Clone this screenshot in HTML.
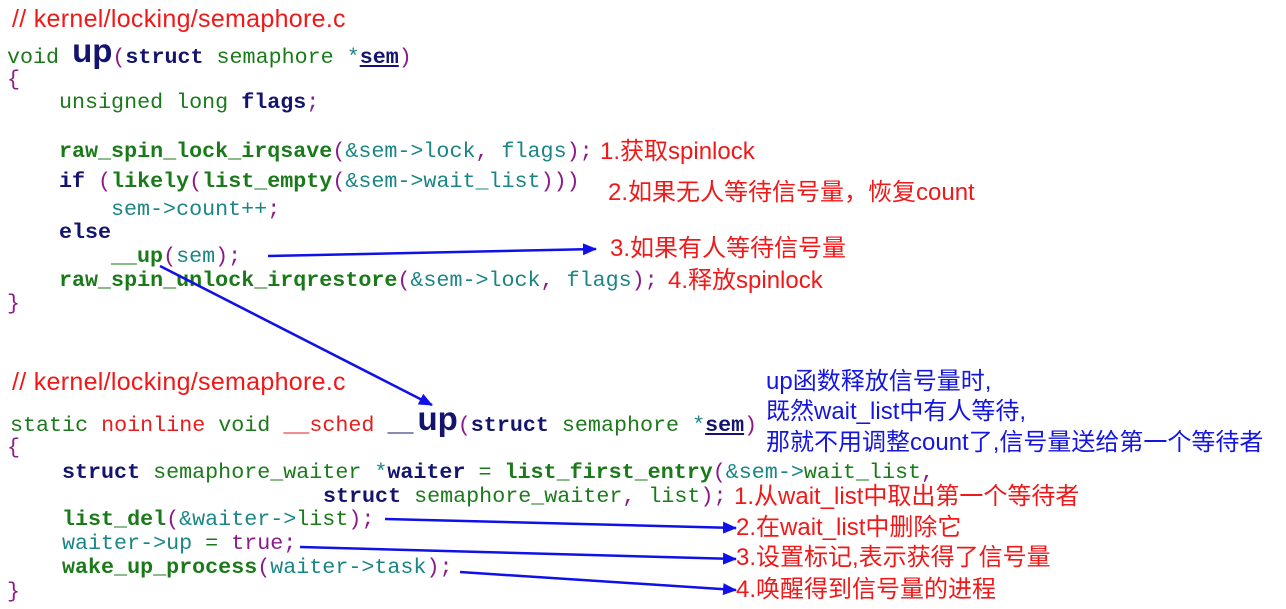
<!DOCTYPE html>
<html><head><meta charset="utf-8"><style>
body{margin:0;width:1286px;height:609px;background:#fff;position:relative;overflow:hidden}
.l{position:absolute;white-space:pre;font-family:"Liberation Mono",monospace;font-size:21.7px;line-height:26px;color:#1a7a1a}
.n{color:#14146e;font-weight:bold}.g{color:#1a7a1a}.gb{color:#1a7a1a;font-weight:bold}.t{color:#1a8585}.p{color:#8a1a8a}.r{color:#e81c1c}
.big{font-family:"Liberation Sans",sans-serif;font-weight:bold;font-size:33px;color:#14146e}
.c{position:absolute;white-space:nowrap;font-family:"Liberation Sans","Noto Sans CJK SC",sans-serif;font-size:24px;line-height:28px;color:#f01818}
.b{color:#1515e0}
.u{text-decoration:underline}
</style></head><body>
<div class="c" style="left:12px;top:5px;font-size:25px;letter-spacing:0.3px">// kernel/locking/semaphore.c</div>
<div class="l" style="left:7px;top:39px">void <span class="big" style="position:relative;top:-1px">up</span><span class="p">(</span><span class="n">struct</span> semaphore <span class="t">*</span><span class="n u">sem</span><span class="p">)</span></div>
<div class="l p" style="left:7px;top:67px">{</div>
<div class="l" style="left:59px;top:90px">unsigned long <span class="n">flags</span><span class="p">;</span></div>
<div class="l" style="left:59px;top:139px"><span class="gb">raw_spin_lock_irqsave</span><span class="p">(</span><span class="t">&amp;sem-&gt;lock</span><span class="p">,</span> <span class="t">flags</span><span class="p">);</span></div>
<div class="l" style="left:59px;top:169px"><span class="n">if</span> <span class="p">(</span><span class="gb">likely</span><span class="p">(</span><span class="gb">list_empty</span><span class="p">(</span><span class="t">&amp;sem-&gt;wait_list</span><span class="p">)))</span></div>
<div class="l" style="left:111px;top:197px"><span class="t">sem-&gt;count++</span><span class="p">;</span></div>
<div class="l" style="left:59px;top:220px"><span class="n">else</span></div>
<div class="l" style="left:111px;top:244px"><span class="gb">__up</span><span class="p">(</span><span class="t">sem</span><span class="p">);</span></div>
<div class="l" style="left:59px;top:268px"><span class="gb">raw_spin_unlock_irqrestore</span><span class="p">(</span><span class="t">&amp;sem-&gt;lock</span><span class="p">,</span> <span class="t">flags</span><span class="p">);</span></div>
<div class="l p" style="left:7px;top:291px">}</div>

<div class="c" style="left:600px;top:138px">1.获取spinlock</div>
<div class="c" style="left:608px;top:179px">2.如果无人等待信号量，恢复count</div>
<div class="c" style="left:610px;top:235px">3.如果有人等待信号量</div>
<div class="c" style="left:668px;top:267px">4.释放spinlock</div>

<div class="c" style="left:12px;top:368px;font-size:25px;letter-spacing:0.3px">// kernel/locking/semaphore.c</div>
<div class="l" style="left:10px;top:407px">static <span class="r">noinline</span> void <span class="r">__sched</span> <span class="n" style="display:inline-block;width:36px">__</span><span class="big" style="position:relative;top:-1px;margin-left:-6px">up</span><span class="p">(</span><span class="n">struct</span> semaphore <span class="t">*</span><span class="n u">sem</span><span class="p">)</span></div>
<div class="l p" style="left:7px;top:435px">{</div>
<div class="l" style="left:62px;top:460px"><span class="n">struct</span> semaphore_waiter <span class="t">*</span><span class="n">waiter</span> = <span class="gb">list_first_entry</span><span class="p">(</span><span class="t">&amp;sem-&gt;</span>wait_list<span class="p">,</span></div>
<div class="l" style="left:323px;top:484px"><span class="n">struct</span> semaphore_waiter<span class="p">,</span> list<span class="p">);</span></div>
<div class="l" style="left:62px;top:507px"><span class="gb">list_del</span><span class="p">(</span><span class="t">&amp;waiter-&gt;</span>list<span class="p">);</span></div>
<div class="l" style="left:62px;top:531px"><span class="t">waiter-&gt;up</span> = <span class="p">true;</span></div>
<div class="l" style="left:62px;top:555px"><span class="gb">wake_up_process</span><span class="p">(</span><span class="t">waiter-&gt;task</span><span class="p">);</span></div>
<div class="l p" style="left:7px;top:579px">}</div>

<div class="c b" style="left:766px;top:368px">up函数释放信号量时,</div>
<div class="c b" style="left:766px;top:398px">既然wait_list中有人等待,</div>
<div class="c b" style="left:766px;top:429px">那就不用调整count了,信号量送给第一个等待者</div>
<div class="c" style="left:734px;top:483px">1.从wait_list中取出第一个等待者</div>
<div class="c" style="left:736px;top:514px">2.在wait_list中删除它</div>
<div class="c" style="left:736px;top:544px">3.设置标记,表示获得了信号量</div>
<div class="c" style="left:736px;top:576px">4.唤醒得到信号量的进程</div>

<svg width="1286" height="609" style="position:absolute;left:0;top:0" xmlns="http://www.w3.org/2000/svg">
<defs>
<marker id="a2" markerWidth="14" markerHeight="12" refX="13" refY="6" orient="auto" markerUnits="userSpaceOnUse"><path d="M0,0 L14,6 L0,12 z" fill="#1010e8"/></marker></defs>
<g stroke="#1010e8" stroke-width="2.5" fill="none">
<line x1="268" y1="256" x2="596" y2="249" marker-end="url(#a2)"/>
<line x1="160" y1="266" x2="432" y2="405" marker-end="url(#a2)"/>
<line x1="385" y1="519" x2="736" y2="528" marker-end="url(#a2)"/>
<line x1="300" y1="547" x2="736" y2="559" marker-end="url(#a2)"/>
<line x1="460" y1="572" x2="736" y2="590" marker-end="url(#a2)"/>
</g></svg>
</body></html>
